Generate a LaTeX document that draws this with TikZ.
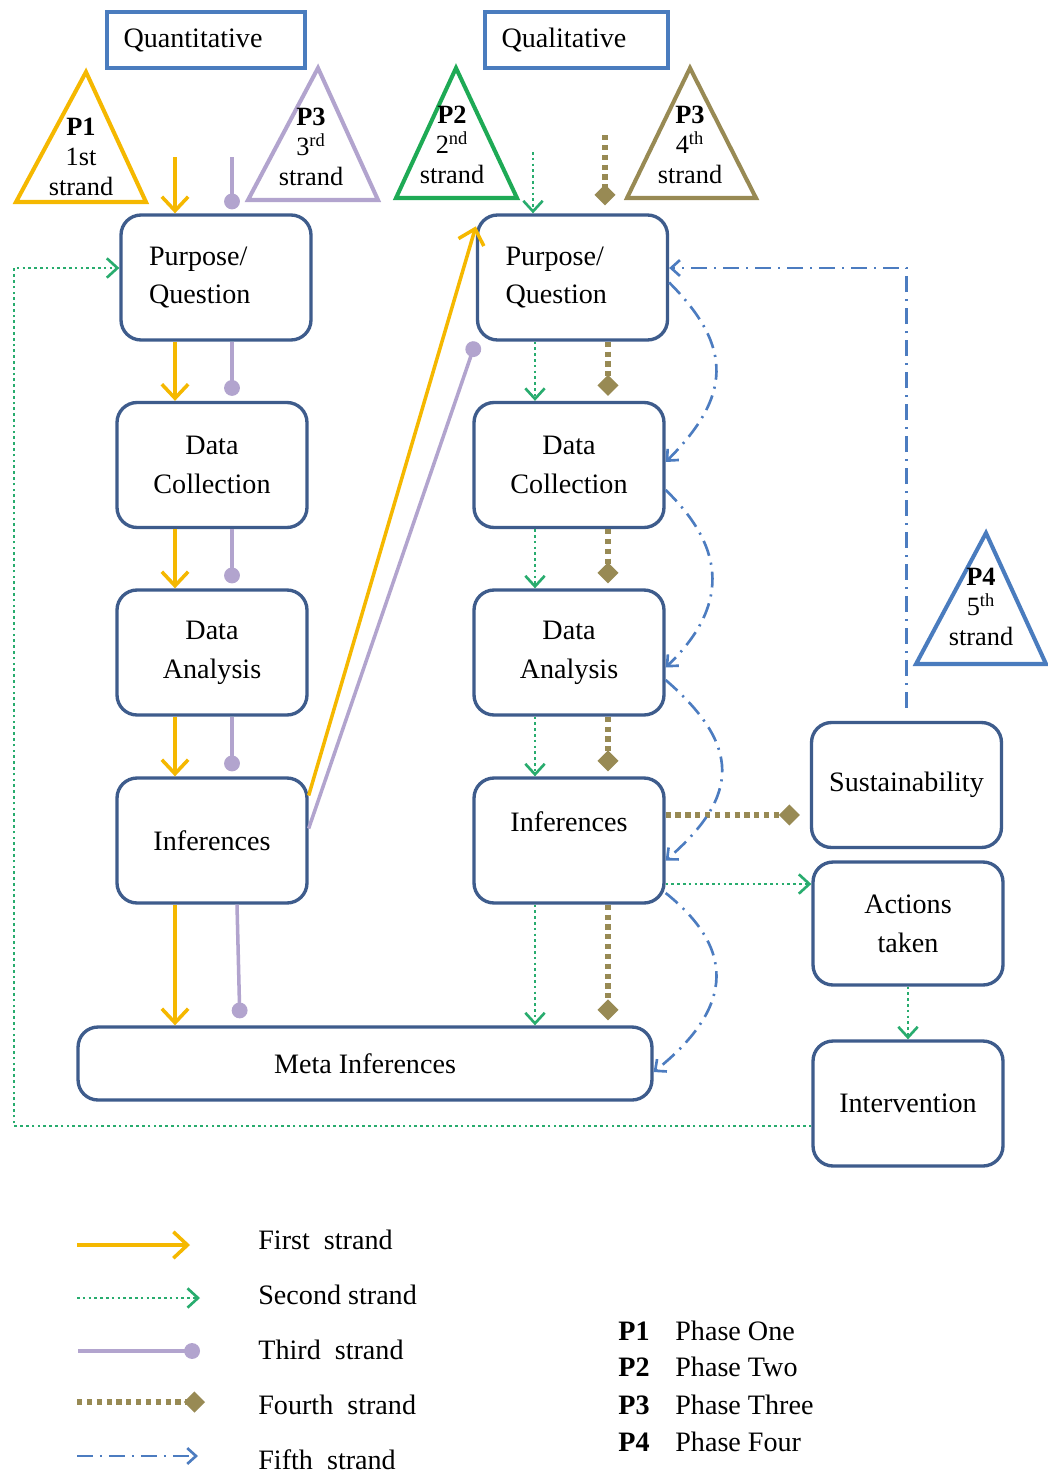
\documentclass[tikz,border=0pt]{standalone}
\usepackage{fontspec}
\setmainfont{Liberation Serif}
\usetikzlibrary{arrows.meta,calc}
\definecolor{boxblue}{RGB}{62,92,140}
\definecolor{headblue}{RGB}{74,124,190}
\definecolor{gold}{RGB}{245,184,0}
\definecolor{lav}{RGB}{178,164,206}
\definecolor{grn}{RGB}{30,170,85}
\definecolor{grnline}{RGB}{40,172,110}
\definecolor{olive}{RGB}{152,138,84}
\definecolor{fifthblue}{RGB}{76,124,192}
\begin{document}
\begin{tikzpicture}[x=0.02cm,y=-0.02cm,
  stepbox/.style={draw=boxblue,line width=1.9pt,rounded corners=0.4cm,
    minimum width=3.8cm,minimum height=2.5cm,align=center,
    font=\fontsize{16}{22}\selectfont},
  pqbox/.style={stepbox,align=left,inner xsep=0.56cm,text width=2.68cm},
  headbox/.style={draw=headblue,line width=1.9pt,minimum height=1.12cm,
    align=left,inner xsep=0.33cm,font=\fontsize{16}{19}\selectfont},
  tri/.style={line width=2.3pt,line join=miter},
  tritext/.style={align=center,inner sep=0pt,font=\fontsize{15}{17}\selectfont},
  legtext/.style={anchor=west,inner sep=0pt,font=\fontsize{16}{19}\selectfont},
  yellowstrand/.style={gold,line width=2pt,-{Straight Barb[length=8pt,width=15pt]}},
  greenstrand/.style={grnline,line width=1.5pt,dash pattern=on 1.5pt off 1.8pt,
    -{Straight Barb[length=6pt,width=11pt]}},
  lavstrand/.style={lav,line width=2pt,-{Circle[length=9pt]}},
  olivestrand/.style={olive,line width=3pt,dash pattern=on 3pt off 2.6pt,
    -{Diamond[length=12pt,width=12pt]}},
  bluestrand/.style={fifthblue,line width=1.5pt,dash pattern=on 9pt off 4pt on 1.2pt off 4pt,
    -{Straight Barb[length=5pt,width=9pt]}}
]
\fill[white] (0,0) rectangle (1048,1474);
\useasboundingbox (0,0) rectangle (1048,1474);

% column headings
\node[headbox,text width=3.3cm] (quant) at (206,40) {Quantitative};
\node[headbox,text width=3.0cm] (qual) at (576.5,40) {Qualitative};

% phase triangles
\draw[tri,gold] (86,72) -- (146,202) -- (16,202) -- cycle;
\node[tritext] (p1t) at (81,157) {\textbf{P1}\\1st\\strand};
\draw[tri,lav] (318,68) -- (378,200) -- (248,200) -- cycle;
\node[tritext] (p3at) at (311,147) {\textbf{P3}\\3\textsuperscript{rd}\\strand};
\draw[tri,grn] (456,68) -- (517,198) -- (396,198) -- cycle;
\node[tritext] (p2t) at (452,145) {\textbf{P2}\\2\textsuperscript{nd}\\strand};
\draw[tri,olive] (690,68) -- (756,198) -- (627,198) -- cycle;
\node[tritext] (p3bt) at (690,145) {\textbf{P3}\\4\textsuperscript{th}\\strand};
\draw[tri,headblue] (986,533) -- (1046,664) -- (916,664) -- cycle;
\node[tritext] (p4t) at (981,607) {\textbf{P4}\\5\textsuperscript{th}\\strand};

% quantitative column
\node[pqbox] (pqL) at (216,277.5) {Purpose/\\Question};
\node[stepbox] (dcL) at (212,465) {Data\\Collection};
\node[stepbox] (daL) at (212,652.5) {Data\\Analysis};
\node[stepbox] (infL) at (212,840.5) {Inferences};

% qualitative column
\node[pqbox] (pqR) at (572.5,277.5) {Purpose/\\Question};
\node[stepbox] (dcR) at (569,465) {Data\\Collection};
\node[stepbox] (daR) at (569,652.5) {Data\\Analysis};
\node[stepbox] (infR) at (569,840.5) {Inferences\\\mbox{}};

\node[stepbox,minimum width=11.48cm,minimum height=1.46cm] (meta) at (365,1063.5) {Meta Inferences};

% action research side
\node[stepbox] (sus) at (906.5,785) {Sustainability};
\node[stepbox,minimum height=2.46cm] (act) at (908,923.5) {Actions\\taken};
\node[stepbox] (int) at (908,1103.5) {Intervention};

% column positions of the strands
\coordinate (xY) at (175,0);
\coordinate (xV) at (232,0);
\coordinate (xG) at (535,0);
\coordinate (xO) at (608,0);

% first strand
\coordinate (yStart) at (175,157);
\draw[yellowstrand] (yStart) -- (yStart |- pqL.north);
\foreach \a/\b in {pqL/dcL,dcL/daL,daL/infL,infL/meta}
  \draw[yellowstrand] (\a.south -| xY) -- (\b.north -| xY);
\draw[yellowstrand] ([yshift=0.9cm]infL.east) -- ([yshift=-0.26cm]pqR.north west);

% third strand
\coordinate (vStart) at (232,157);
\draw[lavstrand,shorten >=0.08cm] (vStart) -- (vStart |- pqL.north);
\foreach \a/\b in {pqL/dcL,dcL/daL,daL/infL}
  \draw[lavstrand,shorten >=0.1cm] (\a.south -| xV) -- (\b.north -| xV);
\coordinate (vA) at (237,0);
\coordinate (vB) at (240,0);
\draw[lavstrand,shorten >=0.14cm] (infL.south -| vA) -- (meta.north -| vB);
\draw[lavstrand] ([yshift=0.24cm]infL.east) -- (pqR.south west);

% second strand
\coordinate (gStart) at (533,152);
\draw[greenstrand] (gStart) -- (gStart |- pqR.north);
\foreach \a/\b in {pqR/dcR,dcR/daR,daR/infR,infR/meta}
  \draw[greenstrand] (\a.south -| xG) -- (\b.north -| xG);
\coordinate (gA) at (0,884);
\draw[greenstrand] (infR.east |- gA) -- (act.west |- gA);
\draw[greenstrand] (act.south) -- (int.north);
\coordinate (gLoop) at (14,1126);
\coordinate (gTopY) at (0,268);
\draw[greenstrand] (int.west |- gLoop) -- (gLoop) -- (gLoop |- gTopY) -- (pqL.west |- gTopY);

% fourth strand
\coordinate (oStart) at (605,135);
\draw[olivestrand,shorten >=0.16cm] (oStart) -- (oStart |- pqR.north);
\foreach \a/\b in {pqR/dcR,dcR/daR,daR/infR,infR/meta}
  \draw[olivestrand,shorten >=0.1cm] (\a.south -| xO) -- (\b.north -| xO);
\coordinate (oY) at (0,815);
\draw[olivestrand,shorten >=0.2cm] (infR.east |- oY) -- (sus.west |- oY);

% fifth strand
\coordinate (bY) at (0,268);
\coordinate (bCorner) at (sus.north |- bY);
\draw[bluestrand] ([yshift=0.26cm]sus.north) -- (bCorner) -- (pqR.east |- bY);
\draw[bluestrand] ([yshift=-0.1cm]pqR.east) .. controls +(65,65) and +(65,-65) .. ([yshift=0.06cm]dcR.east);
\draw[bluestrand] ([yshift=-0.5cm]dcR.east) .. controls +(62,60) and +(62,-60) .. ([yshift=-0.3cm]daR.east);
\draw[bluestrand] ([yshift=-0.55cm]daR.east) .. controls +(75,65) and +(75,-65) .. ([yshift=-0.4cm]infR.east);
\draw[bluestrand] ([yshift=-1.05cm]infR.east) .. controls +(75,60) and +(75,-60) .. ([yshift=-0.17cm]meta.east);

% strand legend
\coordinate (l1a) at (77,1245);  \coordinate (l1b) at (190,1245);
\coordinate (l2a) at (77,1298);  \coordinate (l2b) at (200,1298);
\coordinate (l3a) at (78,1351);  \coordinate (l3b) at (200,1351);
\coordinate (l4a) at (77,1402);  \coordinate (l4b) at (205,1402);
\coordinate (l5a) at (77,1456);  \coordinate (l5b) at (198,1456);
\draw[yellowstrand] (l1a) -- (l1b);
\draw[greenstrand] (l2a) -- (l2b);
\draw[lavstrand] (l3a) -- (l3b);
\draw[olivestrand] (l4a) -- (l4b);
\draw[bluestrand] (l5a) -- (l5b);
\node[legtext] (t1) at (258,1240) {First\ \ strand};
\node[legtext] (t2) at (258,1295) {Second strand};
\node[legtext] (t3) at (258,1350) {Third\ \ strand};
\node[legtext] (t4) at (258,1405) {Fourth\ \ strand};
\node[legtext] (t5) at (258,1460) {Fifth\ \ strand};

% phase legend
\node[legtext] (k1) at (618,1331) {\textbf{P1}};
\node[legtext] (k2) at (618,1367) {\textbf{P2}};
\node[legtext] (k3) at (618,1405) {\textbf{P3}};
\node[legtext] (k4) at (618,1442) {\textbf{P4}};
\node[legtext] (n1) at (675,1331) {Phase One};
\node[legtext] (n2) at (675,1367) {Phase Two};
\node[legtext] (n3) at (675,1405) {Phase Three};
\node[legtext] (n4) at (675,1442) {Phase Four};
\end{tikzpicture}
\end{document}
